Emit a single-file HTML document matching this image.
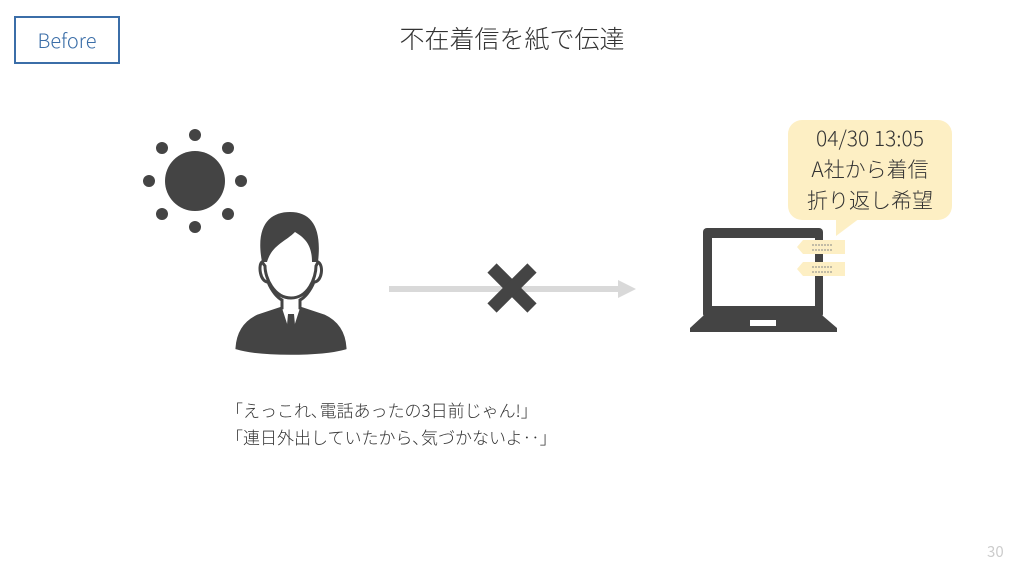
<!DOCTYPE html>
<html><head><meta charset="utf-8"><style>
body{margin:0;width:1024px;height:576px;background:#fff;position:relative;overflow:hidden;font-family:"Noto Sans CJK JP","Liberation Sans",sans-serif;}
.t{position:absolute;white-space:nowrap;}
</style></head><body>
<div style="position:absolute;left:14px;top:16px;width:106px;height:48px;border:2px solid #3b6ea8;box-sizing:border-box;"></div>
<div class="t" style="left:14px;top:16px;width:106px;height:48px;line-height:48px;text-align:center;color:#3b6ea8;font-size:20px;font-weight:300;">Before</div>
<div class="t" style="left:312px;top:20px;width:400px;text-align:center;font-size:25px;line-height:36px;color:#333;font-weight:300;">不在着信を紙で伝達</div>
<svg style="position:absolute;left:0;top:0" width="1024" height="576">
<g fill="#444">
<circle cx="195" cy="181" r="30"/>
<circle cx="195" cy="135" r="6"/><circle cx="228" cy="148" r="6"/><circle cx="241" cy="181" r="6"/><circle cx="228" cy="214" r="6"/>
<circle cx="195" cy="227" r="6"/><circle cx="162" cy="214" r="6"/><circle cx="149" cy="181" r="6"/><circle cx="162" cy="148" r="6"/>
<path d="M262 262 C255 225 270 212 290 212 C312 212 322 228 318 262 L312 262 C312 245 305 238 295 232 C285 242 272 245 267 262 Z"/>
<path d="M262 262 C258 265 260 282 268 282 C272 292 278 298 282 300 L282 308 L258 316 C245 322 238 332 237 348 C260 355 320 355 345 348 C344 332 337 322 324 316 L300 308 L300 300 C304 298 310 292 314 282 C322 282 324 265 318 262 L316 266 C316 278 308 298 291 298 C274 298 265 278 265 266 Z" fill="none" stroke="#444" stroke-width="3"/>
<path d="M237 348 C238 332 245 322 258 316 L282 308 L291 336 L300 308 L324 316 C337 322 344 332 345 348 C320 355 260 355 237 348 Z"/>
<path d="M288 314 L294 314 L296 336 L291 342 L286 336 Z"/>
</g>
<rect x="389" y="286" width="232" height="6" fill="#d9d9d9"/>
<polygon points="618,280 636,289 618,298" fill="#d9d9d9"/>
<g stroke="#444" stroke-width="13"><line x1="492" y1="268" x2="532" y2="308"/><line x1="532" y1="268" x2="492" y2="308"/></g>
<rect x="703" y="228" width="120" height="90" rx="4" fill="#444"/>
<rect x="712" y="238" width="103" height="68" fill="#fff"/>
<path d="M703 316 L823 316 L837 328 L837 332 L690 332 L690 328 Z" fill="#444"/>
<rect x="750" y="320" width="26" height="6" fill="#fff"/>
<g fill="#fdefc4">
<path d="M803 240 L845 240 L845 254 L803 254 L797 247 Z"/>
<path d="M803 262 L845 262 L845 276 L803 276 L797 269 Z"/>
<rect x="788" y="120" width="164" height="100" rx="14"/>
<polygon points="836,218 860,218 836,236"/>
</g>
<g stroke="#888" stroke-width="1" stroke-dasharray="2,1"><line x1="812" y1="245" x2="833" y2="245"/><line x1="812" y1="250" x2="833" y2="250"/><line x1="812" y1="267" x2="833" y2="267"/><line x1="812" y1="272" x2="833" y2="272"/></g>
</svg>
<div class="t" style="left:788px;top:123px;width:164px;text-align:center;font-size:21px;line-height:31px;color:#333;font-weight:300;">04/30 13:05<br>A社から着信<br>折り返し希望</div>
<div class="t" style="left:226px;top:396px;font-size:17px;line-height:27px;color:#333;font-weight:300;">「えっこれ､電話あったの3日前じゃん!」<br>「連日外出していたから､気づかないよ‥」</div>
<div class="t" style="left:987px;top:541px;font-size:15px;color:#ccc;">30</div>
</body></html>
